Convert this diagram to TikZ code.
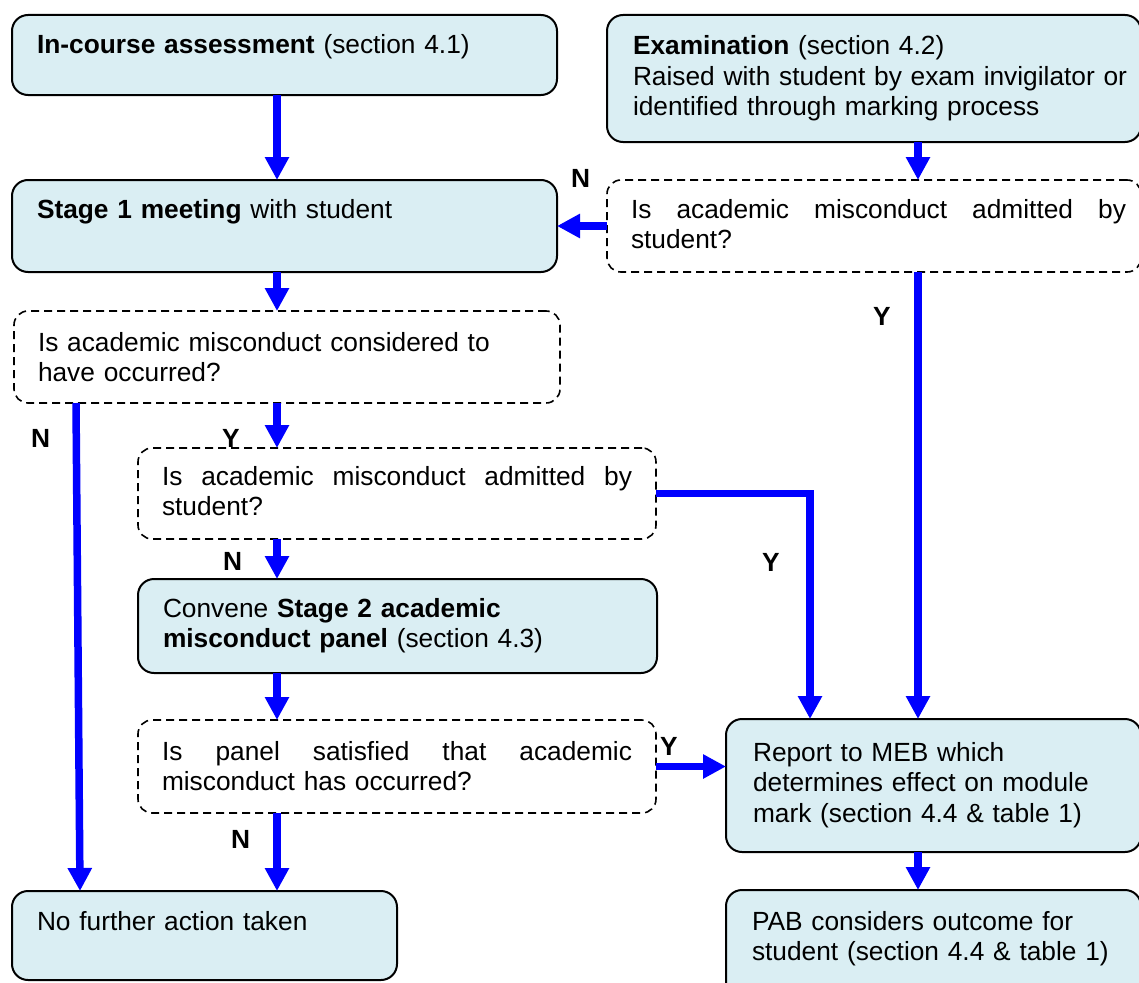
\documentclass[tikz,border=0pt]{standalone}
\usepackage{fontspec}
\setmainfont{Liberation Sans}
\usetikzlibrary{arrows.meta}
\definecolor{boxblue}{HTML}{DAEEF3}
\definecolor{arrblue}{HTML}{0000FF}
\newcommand{\diagfont}{\fontsize{26.3pt}{30.5pt}\selectfont}
\newcommand{\justline}[2]{\makebox[#1][s]{\spaceskip=0.28em plus 1fil\relax #2}}
\begin{document}
\begin{tikzpicture}[x=1pt,y=-1pt,
  basebox/.style={anchor=north west, inner ysep=0pt, outer sep=0pt, align=left, font=\diagfont},
  sbox/.style={basebox, draw=black, line width=2pt, fill=boxblue, rounded corners=16pt},
  dbox/.style={basebox, draw=black, line width=1.6pt, dash pattern=on 8pt off 5pt, rounded corners=14pt},
  arr/.style={draw=arrblue, line width=7.5pt, -{Triangle[length=23pt,width=23pt]}},
  lbl/.style={font=\diagfont\bfseries, inner sep=0pt, anchor=base west}]
\useasboundingbox (0,0) rectangle (1139,982);
\clip (0,0) rectangle (1139,982);

% boxes
\node[sbox, inner xsep=25pt, text width=495pt, text height=38pt, text depth=42pt] (A) at (12,15)
  {\textbf{In-course assessment} (section 4.1)};
\node[sbox, inner xsep=26pt, text width=482pt, text height=40pt, text depth=87pt] (B) at (607,15)
  {\textbf{Examination} (section 4.2)\\\mbox{Raised with student by exam invigilator or}\\identified through marking process};
\node[sbox, inner xsep=25pt, text width=495pt, text height=38pt, text depth=54pt] (C) at (12,180)
  {\textbf{Stage 1 meeting} with student};
\node[dbox, inner xsep=24pt, text width=486pt, text height=38pt, text depth=54pt] (D1) at (607,180)
  {\justline{495pt}{Is academic misconduct admitted by}\\student?};
\node[dbox, inner xsep=24pt, text width=498pt, text height=40pt, text depth=52pt] (D2) at (14,311)
  {Is academic misconduct considered to\\have occurred?};
\node[dbox, inner xsep=24pt, text width=470pt, text height=37pt, text depth=54pt] (D3) at (138,448)
  {\justline{470pt}{Is academic misconduct admitted by}\\student?};
\node[sbox, inner xsep=25pt, text width=469pt, text height=38pt, text depth=56pt] (E) at (138,579)
  {Convene \textbf{Stage 2 academic}\\\textbf{misconduct panel} (section 4.3)};
\node[dbox, inner xsep=24pt, text width=470pt, text height=40pt, text depth=53pt] (D4) at (138,720)
  {\justline{470pt}{Is panel satisfied that academic}\\misconduct has occurred?};
\node[sbox, inner xsep=25pt, text width=335pt, text height=39pt, text depth=50pt] (F) at (12,891)
  {No further action taken};
\node[sbox, inner xsep=27pt, text width=361pt, text height=42pt, text depth=91pt] (G) at (726,719)
  {Report to MEB which\\determines effect on module\\mark (section 4.4 \& table 1)};
\node[sbox, inner xsep=26pt, text width=363pt, text height=40pt, text depth=90pt] (H) at (726,890)
  {PAB considers outcome for\\student (section 4.4 \& table 1)};

% helper coordinates for connector columns
\coordinate (xL) at (277,0);
\coordinate (xR) at (918,0);
\coordinate (xM) at (810,0);
\coordinate (xN1) at (76,0);
\coordinate (xN2) at (80,0);

% connectors
\draw[arr] (A.south -| xL) -- (C.north -| xL);
\draw[arr] (B.south -| xR) -- (D1.north -| xR);
\draw[arr] (D1.west) -- (C.east);
\draw[arr] (C.south -| xL) -- (D2.north -| xL);
\draw[arr] (D1.south -| xR) -- (G.north -| xR);
\draw[arr] (D2.south -| xN1) -- (F.north -| xN2);
\draw[arr] (D2.south -| xL) -- (D3.north -| xL);
\draw[arr] (D3.south -| xL) -- (E.north -| xL);
\draw[arr] (D3.east) -| (G.north -| xM);
\draw[arr] (E.south -| xL) -- (D4.north -| xL);
\draw[arr] (D4.east) -- (D4.east -| G.west);
\draw[arr] (D4.south -| xL) -- (F.north -| xL);
\draw[arr] (G.south -| xR) -- (H.north -| xR);

% labels
\node[lbl] (l1) at (571,187) {N};
\node[lbl] (l2) at (873,325) {Y};
\node[lbl] (l3) at (31,447) {N};
\node[lbl] (l4) at (222,447) {Y};
\node[lbl] (l5) at (223,570) {N};
\node[lbl] (l6) at (762,571) {Y};
\node[lbl] (l7) at (660,755) {Y};
\node[lbl] (l8) at (231,848) {N};
\end{tikzpicture}
\end{document}
